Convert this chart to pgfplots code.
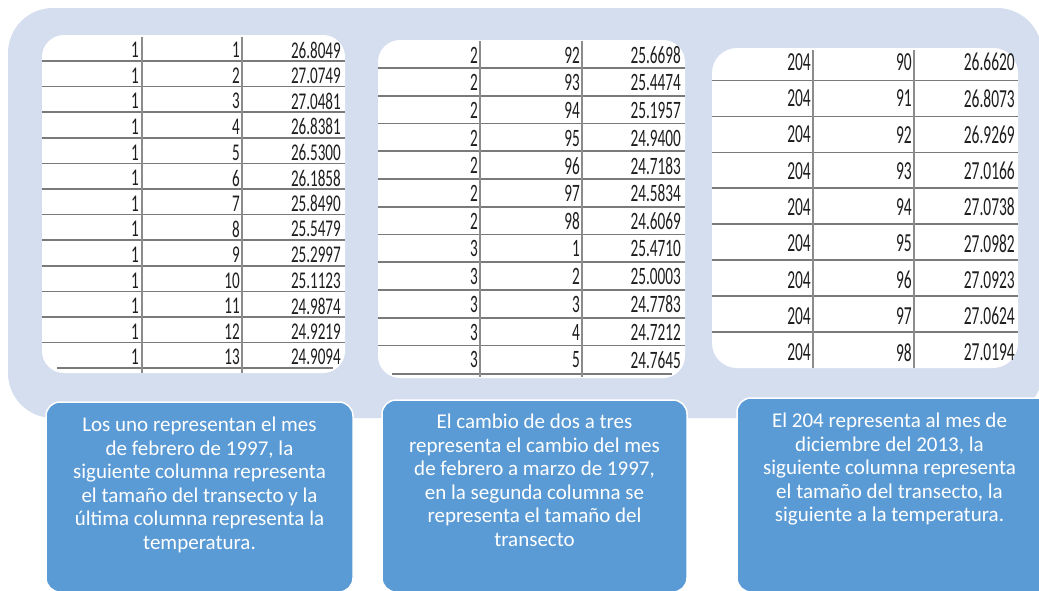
\documentclass[border=0pt]{standalone}
\usepackage{pgfplots}
\pgfplotsset{compat=1.18}
\usepackage{pgfplotstable}
\usepackage{fontspec}
\setmainfont{Carlito}
\newfontfamily\tabA[FakeStretch=0.63]{Carlito}
\newfontfamily\tabB[FakeStretch=0.61]{Carlito}
\newfontfamily\tabC[FakeStretch=0.595]{Carlito}
\definecolor{bgblue}{HTML}{D4DEEF}
\definecolor{boxblue}{HTML}{5B9BD5}
\definecolor{hrule}{HTML}{7A7A7A}
\definecolor{vrule}{HTML}{8C8C8C}
\definecolor{numtxt}{HTML}{1E1E1E}

\pgfplotstableread{
r a b c
1 1 1 26.8049
2 1 2 27.0749
3 1 3 27.0481
4 1 4 26.8381
5 1 5 26.5300
6 1 6 26.1858
7 1 7 25.8490
8 1 8 25.5479
9 1 9 25.2997
10 1 10 25.1123
11 1 11 24.9874
12 1 12 24.9219
13 1 13 24.9094
}\tableA

\pgfplotstableread{
r a b c
1 2 92 25.6698
2 2 93 25.4474
3 2 94 25.1957
4 2 95 24.9400
5 2 96 24.7183
6 2 97 24.5834
7 2 98 24.6069
8 3 1 25.4710
9 3 2 25.0003
10 3 3 24.7783
11 3 4 24.7212
12 3 5 24.7645
}\tableB

\pgfplotstableread{
r a b c
1 204 90 26.6620
2 204 91 26.8073
3 204 92 26.9269
4 204 93 27.0166
5 204 94 27.0738
6 204 95 27.0982
7 204 96 27.0923
8 204 97 27.0624
9 204 98 27.0194
}\tableC

\begin{document}
\begin{tikzpicture}
\begin{axis}[
  hide axis, scale only axis,
  width=1039pt, height=590pt,
  xmin=0, xmax=1039, ymin=0, ymax=590,
  y dir=reverse,
  clip=true,
]
% background
\fill[bgblue, rounded corners=45pt] (axis cs:8,8) rectangle (axis cs:1042,418);
% white table boxes
\fill[white, rounded corners=22pt] (axis cs:42,35) rectangle (axis cs:345,373);
\fill[white, rounded corners=22pt] (axis cs:378,40) rectangle (axis cs:685,378);
\fill[white, rounded corners=25pt] (axis cs:712,48) rectangle (axis cs:1018,368);
% table 1 rules
\pgfplotsinvokeforeach{0,...,11}{
  \draw[hrule, line width=1.6pt] (axis cs:42,{61+25.6*#1}) -- (axis cs:345,{61+25.6*#1});
}
\draw[hrule, line width=1.6pt] (axis cs:57,368) -- (axis cs:333,368);
\draw[vrule, line width=1.2pt] (axis cs:142,37) -- (axis cs:142,373);
\draw[vrule, line width=1.2pt] (axis cs:242,37) -- (axis cs:242,373);
% table 2 rules
\pgfplotsinvokeforeach{0,...,10}{
  \draw[hrule, line width=1.6pt] (axis cs:378,{68+27.75*#1}) -- (axis cs:685,{68+27.75*#1});
}
\draw[hrule, line width=1.6pt] (axis cs:392,374) -- (axis cs:672,374);
\draw[vrule, line width=1.2pt] (axis cs:480,41) -- (axis cs:480,377);
\draw[vrule, line width=1.2pt] (axis cs:582,41) -- (axis cs:582,377);
% table 3 rules
\pgfplotsinvokeforeach{0,...,7}{
  \draw[hrule, line width=1.6pt] (axis cs:712,{80.5+35.9*#1}) -- (axis cs:1018,{80.5+35.9*#1});
}
\draw[vrule, line width=1.2pt] (axis cs:813,50) -- (axis cs:813,368);
\draw[vrule, line width=1.2pt] (axis cs:914,50) -- (axis cs:914,368);

% numbers
\pgfplotsset{numstyle/.style={draw=none, mark=none, nodes near coords, point meta=explicit symbolic,
  nodes near coords style={anchor=east, inner sep=0pt, text=numtxt, font=#1}}}
\addplot[numstyle={\tabA\fontsize{24}{24}\selectfont}] table[x expr=139, y expr={50+25.6*(\thisrow{r}-1)}, meta=a] {\tableA};
\addplot[numstyle={\tabA\fontsize{24}{24}\selectfont}] table[x expr=240, y expr={50+25.6*(\thisrow{r}-1)}, meta=b] {\tableA};
\addplot[numstyle={\tabA\fontsize{24}{24}\selectfont}] table[x expr=341, y expr={50+25.6*(\thisrow{r}-1)}, meta=c] {\tableA};
\addplot[numstyle={\tabB\fontsize{25}{25}\selectfont}] table[x expr=478, y expr={55+27.7*(\thisrow{r}-1)}, meta=a] {\tableB};
\addplot[numstyle={\tabB\fontsize{25}{25}\selectfont}] table[x expr=580, y expr={55+27.7*(\thisrow{r}-1)}, meta=b] {\tableB};
\addplot[numstyle={\tabB\fontsize{25}{25}\selectfont}] table[x expr=681, y expr={55+27.7*(\thisrow{r}-1)}, meta=c] {\tableB};
\addplot[numstyle={\tabC\fontsize{26}{26}\selectfont}] table[x expr=811, y expr={62+36.3*(\thisrow{r}-1)}, meta=a] {\tableC};
\addplot[numstyle={\tabC\fontsize{26}{26}\selectfont}] table[x expr=912, y expr={62+36.3*(\thisrow{r}-1)}, meta=b] {\tableC};
\addplot[numstyle={\tabC\fontsize{26}{26}\selectfont}] table[x expr=1015, y expr={62+36.3*(\thisrow{r}-1)}, meta=c] {\tableC};

% blue text boxes
\draw[white, line width=1.5pt, fill=boxblue, rounded corners=14pt] (axis cs:46,402) rectangle (axis cs:353,592);
\draw[white, line width=1.5pt, fill=boxblue, rounded corners=14pt] (axis cs:382,400) rectangle (axis cs:687,592);
\draw[white, line width=1.5pt, fill=boxblue, rounded corners=14pt] (axis cs:737,398) rectangle (axis cs:1060,592);

\node[anchor=north, align=center, text=white, inner sep=0pt,
  font=\fontsize{21}{23.5}\selectfont] at (axis cs:199.5,417)
  {Los uno representan el mes\\de febrero de 1997, la\\siguiente columna representa\\el tamaño del transecto y la\\última columna representa la\\temperatura.};
\node[anchor=north, align=center, text=white, inner sep=0pt,
  font=\fontsize{21}{23.5}\selectfont] at (axis cs:534.5,414)
  {El cambio de dos a tres\\representa el cambio del mes\\de febrero a marzo de 1997,\\en la segunda columna se\\representa el tamaño del\\transecto};
\node[anchor=north, align=center, text=white, inner sep=0pt,
  font=\fontsize{21}{23.5}\selectfont] at (axis cs:889.5,413)
  {El 204 representa al mes de\\diciembre del 2013, la\\siguiente columna representa\\el tamaño del transecto, la\\siguiente a la temperatura.};
\end{axis}
\pgfresetboundingbox
\path (current axis.south west) rectangle (current axis.north east);
\end{tikzpicture}
\end{document}
